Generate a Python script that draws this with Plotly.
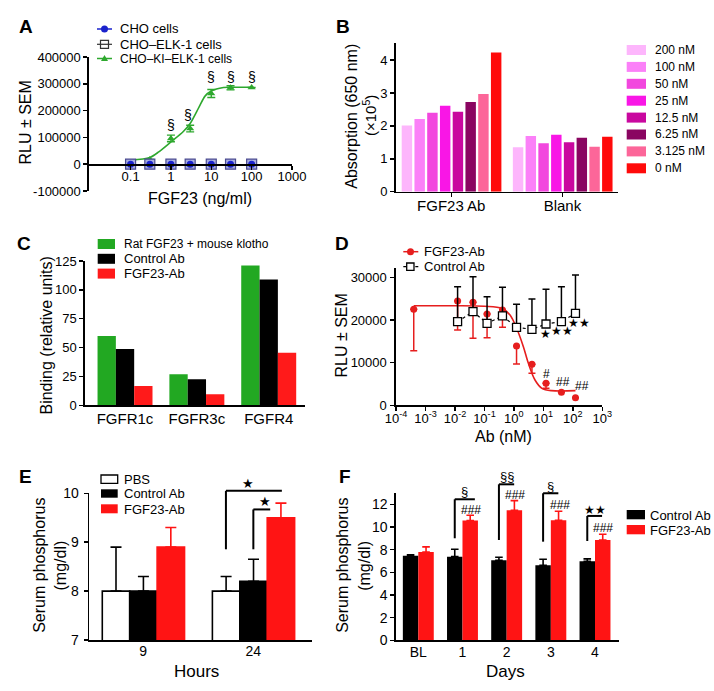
import math
import plotly.graph_objects as go

W, H = 714, 691
FONT = "Liberation Sans, Arial, Helvetica, sans-serif"

# ---------------- data ----------------
# Panel A
a_conc = [0.1, 0.3, 1, 3, 10, 30, 100]
a_cho = [0, 0, 0, 0, 0, 0, 0]
a_cho_elk = [0, 0, 0, 0, 0, 0, 0]
a_ki_elk = [5000, 18000, 96000, 133000, 264000, 285000, 286000]
a_ki_elk_sem = [0, 0, 12500, 12500, 15000, 7500, 0]
a_fit_conc = [0.1, 0.3, 0.5, 1, 2, 3, 5, 7, 10, 20, 30, 100]
a_fit_rlu = [15000, 25000, 46000, 83000, 121000, 152000, 214000, 254000, 273000, 286000, 287000, 287000]
a_sig_conc = [1, 2.6, 10, 30, 100]
a_sig_rlu = [146000, 183000, 326000, 326000, 326000]
a_yticks = [-100000, 0, 100000, 200000, 300000, 400000]
a_xticks = [0.1, 1, 10, 100, 1000]
a_xticklabels = ["0.1", "1", "10", "100", "1000"]

# Panel B
b_groups = ["FGF23 Ab", "Blank"]
b_doses = ["200 nM", "100 nM", "50 nM", "25 nM", "12.5 nM", "6.25 nM", "3.125 nM", "0 nM"]
b_fgf23ab = [2.01, 2.21, 2.40, 2.61, 2.43, 2.73, 2.97, 4.23]
b_blank = [1.35, 1.69, 1.47, 1.73, 1.50, 1.64, 1.37, 1.67]
b_colors = ["#FDB6FC", "#FB80F8", "#F247DE", "#F916E6", "#C9089F", "#8A0561", "#FC6699", "#FF0A0A"]

# Panel C
c_receptors = ["FGFR1c", "FGFR3c", "FGFR4"]
c_series = ["Rat FGF23 + mouse klotho", "Control Ab", "FGF23-Ab"]
c_values = [[60, 27, 121], [48.7, 22.5, 109], [16.7, 9.5, 45.5]]
c_colors = ["#22A822", "#000000", "#FF1A1A"]

# Panel D
d_conc = [0.0004, 0.0123, 0.041, 0.123, 0.41, 1.23, 4.1, 12.3, 41, 123]
d_fgf23ab = [22500, 24440, 24140, 21400, 22330, 13900, 9600, 5150, 3040, 1780]
d_fgf23ab_sem = [9700, 6790, 8440, 5550, 4050, 4220, 2100, 1170, 0, 0]
d_ctrl_conc = [0.0123, 0.041, 0.123, 0.41, 1.23, 4.1, 12.3, 41, 123]
d_ctrl = [19600, 21940, 19210, 20930, 18280, 17810, 19050, 19600, 21560]
d_ctrl_sem = [8200, 8200, 6240, 6720, 5390, 7100, 8140, 8200, 8980]
d_fit_conc = [0.0004, 0.01, 0.1, 0.39, 0.74, 1.24, 2.1, 3.1, 5.2, 8.9, 19, 123]
d_fit_rlu = [23340, 23320, 23200, 22730, 21160, 18050, 13730, 9840, 5930, 3980, 3430, 3430]
d_xticks = [1e-4, 1e-3, 1e-2, 1e-1, 1, 10, 100, 1000]
d_xticklabels = ["10<sup>-4</sup>", "10<sup>-3</sup>", "10<sup>-2</sup>", "10<sup>-1</sup>",
                 "10<sup>0</sup>", "10<sup>1</sup>", "10<sup>2</sup>", "10<sup>3</sup>"]
d_yticks = [0, 10000, 20000, 30000]
d_marks = [("#", 13, 7335), ("##", 47.5, 5390), ("##", 209, 4593),
           ("★", 12, 16710), ("★★", 43.6, 17410), ("★★", 166, 19360)]

# Panel E
e_hours = ["9", "24"]
e_pbs = [8.0, 8.0]
e_pbs_sem = [0.9, 0.3]
e_ctrl = [8.0, 8.2]
e_ctrl_sem = [0.3, 0.45]
e_fgf = [8.9, 9.5]
e_fgf_sem = [0.4, 0.3]

# Panel F
f_days = ["BL", "1", "2", "3", "4"]
f_ctrl = [7.45, 7.38, 7.06, 6.62, 6.97]
f_ctrl_sem = [0.1, 0.65, 0.26, 0.53, 0.21]
f_fgf = [7.79, 10.56, 11.47, 10.59, 8.85]
f_fgf_sem = [0.45, 0.47, 0.85, 0.79, 0.5]
# brackets: (x of control bar, x end, y bottom, y top)
f_brackets = [(0.825, 1.28, 9.0, 12.44), (1.825, 2.17, 8.85, 13.76),
              (2.825, 3.17, 8.7, 12.97), (3.825, 4.16, 8.76, 10.97)]
f_marks = [("§", 1.056, 13.11), ("###", 1.19, 11.5), ("§§", 2.0, 14.44), ("###", 2.19, 12.82),
           ("§", 3.0, 13.55), ("###", 3.205, 11.94), ("★★", 3.997, 11.5), ("###", 4.185, 9.88)]

# ---------------- layout geometry (pixels) ----------------
PANELS = {
    "A": dict(ax="x", ay="y", xd=(89, 292), yd=(191, 57), xr=(-2.03, 3), yr=(-100000, 400000), xlog=True),
    "B": dict(ax="x2", ay="y2", xd=(395.7, 618), yd=(191.7, 43), xr=(-0.5, 1.5), yr=(0, 4.52), xlog=False),
    "C": dict(ax="x3", ay="y3", xd=(85, 305), yd=(405.3, 261), xr=(-0.557, 2.505), yr=(0, 125), xlog=False),
    "D": dict(ax="x4", ay="y4", xd=(396, 602.3), yd=(405.3, 268.3), xr=(-4, 3), yr=(0, 32100), xlog=True),
    "E": dict(ax="x5", ay="y5", xd=(89.3, 311.7), yd=(640, 493.3), xr=(-0.49, 1.53), yr=(7, 10), xlog=False),
    "F": dict(ax="x6", ay="y6", xd=(396, 619.3), yd=(640.3, 492.7), xr=(-0.505, 4.55), yr=(0, 13.02), xlog=False),
}


def fx(p):
    return p / W


def fy(p):
    return 1 - p / H


def d2px(panel, x, y):
    P = PANELS[panel]
    xv = math.log10(x) if P["xlog"] else x
    tx = (xv - P["xr"][0]) / (P["xr"][1] - P["xr"][0])
    ty = (y - P["yr"][0]) / (P["yr"][1] - P["yr"][0])
    px_ = P["xd"][0] + tx * (P["xd"][1] - P["xd"][0])
    py_ = P["yd"][0] + ty * (P["yd"][1] - P["yd"][0])
    return px_, py_


fig = go.Figure()
annotations = []
shapes = []


def text(px_, py_, s, size=13, bold=False, angle=0, xanchor="center", color="black"):
    annotations.append(dict(
        x=fx(px_), y=fy(py_), xref="paper", yref="paper", text=("<b>%s</b>" % s) if bold else s,
        showarrow=False, xanchor=xanchor, yanchor="middle", textangle=angle,
        font=dict(family=FONT, size=size, color=color)))


def dtext(panel, x, y, s, size=12):
    px_, py_ = d2px(panel, x, y)
    text(px_, py_, s, size=size)


def line_px(x0, y0, x1, y1, color="black", width=1.6, dash="solid"):
    shapes.append(dict(type="line", xref="paper", yref="paper", x0=fx(x0), y0=fy(y0), x1=fx(x1), y1=fy(y1),
                       line=dict(color=color, width=width, dash=dash)))


def rect_px(x0, y0, x1, y1, fill, lc=None, lw=0):
    shapes.append(dict(type="rect", xref="paper", yref="paper", x0=fx(x0), y0=fy(y0), x1=fx(x1), y1=fy(y1),
                       fillcolor=fill, line=dict(color=lc or fill, width=lw)))


def dline(panel, x0, y0, x1, y1, width=2):
    a = d2px(panel, x0, y0)
    b = d2px(panel, x1, y1)
    line_px(a[0], a[1], b[0], b[1], width=width)


# ---------------- Panel A ----------------
A = PANELS["A"]
fig.add_trace(go.Scatter(x=a_fit_conc, y=a_fit_rlu, mode="lines", line=dict(color="#2EA82E", width=1.6, shape="spline", smoothing=0.8),
                         xaxis=A["ax"], yaxis=A["ay"], hoverinfo="skip"))
fig.add_trace(go.Scatter(x=a_conc, y=a_ki_elk, mode="markers",
                         marker=dict(symbol="triangle-up", size=7, color="#2EA82E"),
                         error_y=dict(type="data", array=a_ki_elk_sem, color="#2EA82E", thickness=1.4, width=4),
                         xaxis=A["ax"], yaxis=A["ay"]))
fig.add_trace(go.Scatter(x=a_conc, y=a_cho_elk, mode="markers",
                         marker=dict(symbol="square", size=10, color="#A9AEE0", line=dict(color="#4A4A90", width=1.2)),
                         xaxis=A["ax"], yaxis=A["ay"]))
fig.add_trace(go.Scatter(x=a_conc, y=a_cho, mode="markers",
                         marker=dict(symbol="circle", size=7, color="#1A22CC"),
                         xaxis=A["ax"], yaxis=A["ay"]))
for c, v in zip(a_sig_conc, a_sig_rlu):
    dtext("A", c, v, "§", size=14)

# legend A
line_px(97, 29, 112, 29, color="#1A22CC", width=1.5)
shapes.append(dict(type="circle", xref="paper", yref="paper", x0=fx(101), y0=fy(32.5), x1=fx(108), y1=fy(25.5),
                   fillcolor="#1A22CC", line=dict(color="#1A22CC", width=0)))
line_px(97, 44.3, 112, 44.3, color="#333333", width=1.2)
rect_px(100.5, 40.3, 108.5, 48.3, "rgba(255,255,255,0)", lc="#333333", lw=1.2)
line_px(97, 58.5, 112, 58.5, color="#2EA82E", width=1.5)
shapes.append(dict(type="path", xref="paper", yref="paper",
                   path="M %f %f L %f %f L %f %f Z" % (fx(101), fy(61), fx(108), fy(61), fx(104.5), fy(55)),
                   fillcolor="#2EA82E", line=dict(color="#2EA82E", width=0)))
text(117.5, 29, "CHO cells", 13, xanchor="left")
text(117.5, 44.3, "CHO–ELK-1 cells", 13, xanchor="left")
text(117.5, 58.5, "CHO–KI–ELK-1 cells", 12, xanchor="left")

# ---------------- Panel B ----------------
B = PANELS["B"]
for i, dose in enumerate(b_doses):
    fig.add_trace(go.Bar(x=b_groups, y=[b_fgf23ab[i], b_blank[i]], width=0.094, offset=-0.446 + i * 0.1147,
                         marker=dict(color=b_colors[i], line=dict(width=0)), name=dose,
                         xaxis=B["ax"], yaxis=B["ay"]))
for i, dose in enumerate(b_doses):
    yc = 50 + i * 16.9
    rect_px(626.7, yc - 5, 646, yc + 5, b_colors[i])
    text(652.7, yc, dose, 12, xanchor="left")

# ---------------- Panel C ----------------
C = PANELS["C"]
for i, s in enumerate(c_series):
    fig.add_trace(go.Bar(x=c_receptors, y=c_values[i], width=0.255, offset=-0.3825 + i * 0.255,
                         marker=dict(color=c_colors[i], line=dict(width=0)), name=s,
                         xaxis=C["ax"], yaxis=C["ay"]))
for i, s in enumerate(c_series):
    yc = 244 + i * 14.8
    rect_px(97.7, yc - 5, 115, yc + 5, c_colors[i])
    text(121.7, yc, s, 12 if i == 0 else 13, xanchor="left")

# ---------------- Panel D ----------------
D = PANELS["D"]
RED_D = "#E61E1E"
fig.add_trace(go.Scatter(x=d_fit_conc, y=d_fit_rlu, mode="lines",
                         line=dict(color=RED_D, width=1.6, shape="spline", smoothing=0.9),
                         xaxis=D["ax"], yaxis=D["ay"], hoverinfo="skip"))
fig.add_trace(go.Scatter(x=d_conc, y=d_fgf23ab, mode="markers",
                         marker=dict(symbol="circle", size=7, color=RED_D),
                         error_y=dict(type="data", symmetric=False, array=[0] * len(d_conc), arrayminus=d_fgf23ab_sem,
                                      color=RED_D, thickness=1.5, width=3.5),
                         xaxis=D["ax"], yaxis=D["ay"]))
fig.add_trace(go.Scatter(x=d_ctrl_conc, y=d_ctrl, mode="lines+markers",
                         line=dict(color="black", width=1.2, dash="dot"),
                         marker=dict(symbol="square", size=8, color="white", line=dict(color="black", width=1.3)),
                         error_y=dict(type="data", symmetric=False, array=d_ctrl_sem, arrayminus=[0] * len(d_ctrl),
                                      color="black", thickness=1.5, width=3.5),
                         xaxis=D["ax"], yaxis=D["ay"]))
for s, xv, yv in d_marks:
    dtext("D", xv, yv, s, size=12)

line_px(403.3, 251.7, 418.3, 251.7, color=RED_D, width=1.5)
shapes.append(dict(type="circle", xref="paper", yref="paper", x0=fx(407), y0=fy(255.2), x1=fx(414), y1=fy(248.2),
                   fillcolor=RED_D, line=dict(color=RED_D, width=0)))
line_px(403.3, 266.7, 418.3, 266.7, color="black", width=1.2, dash="dot")
rect_px(406.7, 263, 414, 270.3, "white", lc="black", lw=1.3)
text(421.7, 251.7, "FGF23-Ab", 13, xanchor="left")
text(421.7, 266.7, "Control Ab", 13, xanchor="left")

# ---------------- Panel E ----------------
E = PANELS["E"]
e_specs = [("PBS", e_pbs, e_pbs_sem, "white", "black", "black"),
           ("Control Ab", e_ctrl, e_ctrl_sem, "black", "black", "black"),
           ("FGF23-Ab", e_fgf, e_fgf_sem, "#FF1414", "#FF1414", "#FF1414")]
for i, (nm, vals, sems, fill, lc, ec) in enumerate(e_specs):
    fig.add_trace(go.Bar(x=e_hours, y=vals, width=0.249, offset=-0.372 + i * 0.249,
                         marker=dict(color=fill, line=dict(color=lc, width=1.6)), name=nm,
                         error_y=dict(type="data", symmetric=False, array=sems, arrayminus=[0] * len(vals),
                                      color=ec, thickness=1.6, width=5.5),
                         xaxis=E["ax"], yaxis=E["ay"]))
dline("E", 0.751, 8.855, 0.751, 10.05)
dline("E", 0.751, 10.05, 1.259, 10.05)
dline("E", 1.0, 8.855, 1.0, 9.67)
dline("E", 1.0, 9.67, 1.153, 9.67)
dtext("E", 0.953, 10.21, "★", size=13)
dtext("E", 1.107, 9.83, "★", size=13)
rect_px(101, 475, 117.7, 483.3, "white", lc="black", lw=1.3)
rect_px(101, 489.3, 117.7, 497.7, "black")
rect_px(101, 504.3, 117.7, 513.3, "#FF1414")
text(121.7, 479.3, "PBS", 13, xanchor="left")
text(121.7, 493.7, "Control Ab", 13, xanchor="left")
text(121.7, 509, "FGF23-Ab", 13, xanchor="left")

# ---------------- Panel F ----------------
F = PANELS["F"]
f_specs = [("Control Ab", f_ctrl, f_ctrl_sem, "black"), ("FGF23-Ab", f_fgf, f_fgf_sem, "#FF1414")]
for i, (nm, vals, sems, col) in enumerate(f_specs):
    fig.add_trace(go.Bar(x=f_days, y=vals, width=0.35, offset=-0.35 + i * 0.35,
                         marker=dict(color=col, line=dict(width=0)), name=nm,
                         error_y=dict(type="data", symmetric=False, array=sems, arrayminus=[0] * len(vals),
                                      color=col, thickness=1.6, width=3.8),
                         xaxis=F["ax"], yaxis=F["ay"]))
for x0, x1, y0, y1 in f_brackets:
    dline("F", x0, y0, x0, y1)
    dline("F", x0, y1, x1, y1)
for s, xv, yv in f_marks:
    dtext("F", xv, yv, s, size=12 if "★" in s else (13 if "§" in s else 12))
rect_px(626.7, 510, 645, 519.3, "black")
rect_px(626.7, 525, 645, 534.3, "#FF1414")
text(648.3, 515, "Control Ab", 13, xanchor="left")
text(648.3, 530, "FGF23-Ab", 13, xanchor="left")

# ---------------- titles & panel letters ----------------
for letter, (lx, ly) in {"A": (25.8, 27), "B": (343.3, 27), "C": (24.2, 244), "D": (341.7, 244),
                         "E": (25, 476.7), "F": (344.8, 476.5)}.items():
    text(lx, ly, letter, 19, bold=True)

text(25, 122.5, "RLU ± SEM", 16, angle=-90)
text(200, 199, "FGF23 (ng/ml)", 16)
text(352, 116.7, "Absorption (650 nm)", 16, angle=-90)
text(369, 116, "(×10<sup>5</sup>)", 15, angle=-90)
text(46.7, 335.8, "Binding (relative units)", 16, angle=-90)
text(341.7, 335.8, "RLU ± SEM", 16, angle=-90)
text(503, 437, "Ab (nM)", 16)
text(40, 565.8, "Serum phosphorus", 16, angle=-90)
text(60.7, 565.8, "(mg/dl)", 16, angle=-90)
text(196.7, 671.7, "Hours", 17)
text(343, 565.8, "Serum phosphorus", 16, angle=-90)
text(365, 565.8, "(mg/dl)", 16, angle=-90)
text(505.7, 671.7, "Days", 17)

# ---------------- axes ----------------
def axis_common(size):
    return dict(showline=True, linecolor="black", linewidth=1.6, ticks="outside", ticklen=4, tickwidth=1.5,
                tickcolor="black", showgrid=False, zeroline=False, automargin=False,
                tickfont=dict(family=FONT, size=size, color="black"), fixedrange=True)


layout_axes = {}
for key, P in PANELS.items():
    xn = "xaxis" + P["ax"][1:]
    yn = "yaxis" + P["ay"][1:]
    xa = axis_common(13)
    ya = axis_common(13)
    xa.update(domain=[fx(P["xd"][0]), fx(P["xd"][1])], anchor=P["ay"])
    ya.update(domain=[fy(P["yd"][0]), fy(P["yd"][1])], anchor=P["ax"], range=list(P["yr"]))
    if P["xlog"]:
        xa.update(type="log", range=list(P["xr"]))
    else:
        xa.update(type="category", range=list(P["xr"]))
    layout_axes[xn] = xa
    layout_axes[yn] = ya

# A specifics
layout_axes["xaxis"].update(anchor="free", position=fy(164.3), tickvals=a_xticks, ticktext=a_xticklabels,
                            ticklabelstandoff=-5)
layout_axes["yaxis"].update(tickvals=a_yticks, ticktext=[str(v) for v in a_yticks])
# B
layout_axes["xaxis2"].update(tickfont=dict(family=FONT, size=15, color="black"), ticklabelstandoff=-4)
layout_axes["yaxis2"].update(tickvals=[0, 1, 2, 3, 4])
# C
layout_axes["xaxis3"].update(ticks="", tickfont=dict(family=FONT, size=15, color="black"), ticklabelstandoff=-1)
layout_axes["yaxis3"].update(tickvals=[0, 25, 50, 75, 100, 125])
# D
layout_axes["xaxis4"].update(tickvals=d_xticks, ticktext=d_xticklabels, ticklabelstandoff=-4)
layout_axes["yaxis4"].update(tickvals=d_yticks, ticktext=[str(v) for v in d_yticks], ticklabelstandoff=1)
# E
layout_axes["xaxis5"].update(ticks="", tickfont=dict(family=FONT, size=14, color="black"), ticklabelstandoff=-2)
layout_axes["yaxis5"].update(tickvals=[7, 8, 9, 10], tickfont=dict(family=FONT, size=14, color="black"),
                             ticklabelstandoff=2)
# F
layout_axes["xaxis6"].update(ticks="", tickfont=dict(family=FONT, size=14, color="black"), ticklabelstandoff=-2)
layout_axes["yaxis6"].update(tickvals=[0, 2, 4, 6, 8, 10, 12], tickfont=dict(family=FONT, size=14, color="black"))

fig.update_layout(width=W, height=H, autosize=False, margin=dict(l=0, r=0, t=0, b=0),
                  paper_bgcolor="white", plot_bgcolor="white", showlegend=False, barmode="overlay",
                  font=dict(family=FONT, color="black"), annotations=annotations, shapes=shapes,
                  **layout_axes)

fig.write_html("out.html", config={"displayModeBar": False, "staticPlot": True},
               post_script="document.body.style.margin='0px';")
